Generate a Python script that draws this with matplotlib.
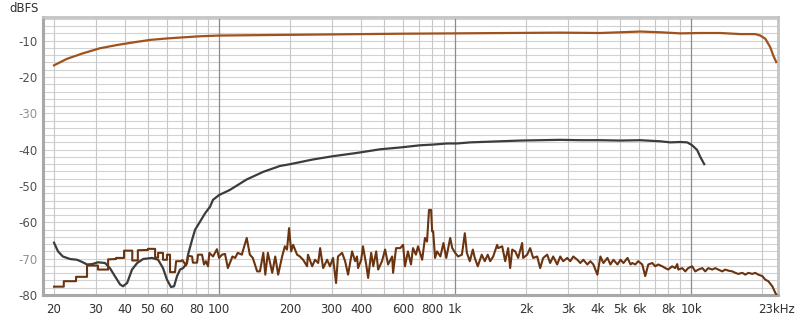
import numpy as np
import matplotlib.pyplot as plt
import matplotlib as mpl

mpl.rcParams['font.family'] = ['DejaVu Sans']
mpl.rcParams['axes.unicode_minus'] = False

# top curve (level, brown-orange)
top_freq = [20, 22.7, 26.5, 31.3, 37, 43.2, 51, 60.2, 70.4, 83.1, 100, 200, 585, 1000,
            2786, 4114, 6083, 7390, 8980, 10920, 13270, 16140, 18660, 19600, 20600,
            21600, 22250, 22900]
top_db = [-16.8, -15.0, -13.5, -12.1, -11.2, -10.5, -9.8, -9.4, -9.1, -8.8, -8.6, -8.4, -8.1, -8.0,
          -7.8, -7.9, -7.5, -7.7, -8.0, -7.9, -7.9, -8.2, -8.2, -8.6, -9.5,
          -11.8, -14.1, -15.9]

# dark grey curve
grey_freq = [20, 20.8, 21.8, 23.4, 25.0, 26.3, 27.6, 29.0, 30.7, 32.9, 34.5, 36.2, 38.1, 39.2,
             40.8, 42.8, 45.0, 47.7, 52.0, 55.2, 57.9, 60.2, 62.6, 64.5, 66.4, 68.4, 70.4,
             73.2, 73.9, 76.9, 79.1, 87.3, 91.6, 94.3, 100, 111, 131, 154, 181, 200, 250,
             304, 384, 481, 585, 711, 807, 925, 1019, 1158, 1276, 1885, 2786, 3386, 4114,
             5003, 6083, 7390, 8150, 8980, 9620, 10090, 10590, 10920, 11350]
grey_db = [-65.6, -68.0, -69.4, -70.1, -70.3, -70.9, -71.6, -71.5, -71.0, -71.2, -72.6, -74.8, -77.1, -77.6,
           -76.7, -73.0, -71.2, -70.1, -69.8, -70.3, -72.6, -75.8, -77.8, -77.6, -74.8, -73.0, -72.6,
           -71.2, -68.9, -64.8, -62.1, -57.5, -55.7, -53.8, -52.5, -51.1, -48.2, -46.1, -44.5, -44.0, -42.7,
           -41.8, -40.9, -39.9, -39.4, -38.8, -38.6, -38.3, -38.3, -38.0, -37.9, -37.5, -37.3, -37.4, -37.4,
           -37.5, -37.4, -37.7, -38.0, -37.9, -38.0, -38.8, -40.1, -42.0, -44.0]

# noise spectrum (dark brown)
noise_freq = [20, 22, 22, 24.8, 24.8, 27.6, 27.6, 30.7, 30.7, 33.9, 33.9, 36.6, 36.6, 39.6, 39.6,
              42.9, 42.9, 45.3, 45.3, 50, 50, 53.6, 53.6, 55.2, 55.2, 57.9, 57.9, 60.2, 60.2,
              62, 62, 65.1, 65.8, 69, 70, 72.5, 73.9, 76.9, 77.5, 80.7, 81.5, 84.7, 86.4, 88,
              89.8, 91, 94.3, 98, 100, 103, 106, 109, 114, 117, 120, 125, 126, 131, 135, 139,
              145, 149, 154, 157, 161, 168, 173, 178, 185, 190, 194, 198, 202, 206, 214, 220,
              227, 236, 238, 248, 255, 263, 268, 276, 287, 295, 304, 313, 319, 332, 342, 352,
              366, 377, 384, 388, 400, 407, 420, 428, 441, 450, 463, 472, 490, 505, 520, 541,
              546, 562, 585, 602, 613, 631, 650, 663, 682, 696, 725, 745, 760, 775, 791, 799,
              807, 822, 838, 866, 892, 917, 953, 972, 1000, 1029, 1068, 1099, 1121, 1154,
              1188, 1211, 1247, 1296, 1335, 1374, 1407, 1449, 1506, 1521, 1582, 1629, 1677,
              1710, 1745, 1796, 1849, 1922, 1941, 2018, 2078, 2140, 2226, 2291, 2360, 2454,
              2526, 2601, 2705, 2786, 2869, 2984, 3073, 3164, 3291, 3389, 3490, 3630, 3738,
              3849, 4003, 4122, 4245, 4415, 4546, 4681, 4869, 5014, 5163, 5370, 5530, 5623,
              5794, 5962, 6200, 6383, 6577, 6839, 7036, 7244, 7534, 7762, 7990, 8298, 8550,
              8720, 8810, 9162, 9433, 9705, 10090, 10400, 10720, 11140, 11460, 11800, 12270,
              12640, 13010, 13530, 13930, 14350, 14930, 15360, 15820, 16450, 16940, 17460,
              18130, 18660, 19230, 19990, 20600, 21200, 22040, 22700, 23100]
noise_db = [-77.7, -77.7, -76.2, -76.2, -75.0, -75.0, -71.9, -71.9, -73.0, -73.0, -70.2, -70.1, -69.8, -69.8, -67.8,
            -67.8, -70.5, -70.5, -67.7, -67.6, -67.3, -67.3, -69.7, -69.7, -68.4, -68.4, -70.3, -70.3, -68.9,
            -68.9, -73.7, -73.7, -70.7, -70.7, -70.4, -71.9, -69.2, -69.4, -71.1, -71.1, -68.9, -68.9, -71.6, -70.7,
            -72.1, -68.4, -69.4, -67.4, -69.8, -68.9, -68.7, -72.6, -69.4, -69.8, -68.4, -68.9, -68.0, -64.3, -68.9, -69.8,
            -73.5, -73.5, -68.4, -74.4, -68.4, -73.9, -69.4, -74.4, -69.4, -66.6, -67.5, -61.6, -68.0, -66.2, -68.9, -69.4,
            -70.3, -72.1, -68.9, -72.1, -70.3, -71.2, -67.1, -72.6, -70.3, -72.1, -69.8, -76.7, -69.4, -68.4, -70.7, -74.4,
            -68.0, -70.7, -69.4, -72.6, -70.3, -66.6, -71.6, -75.3, -68.4, -72.1, -68.0, -73.0, -70.7, -67.5, -71.6, -69.4,
            -73.9, -67.1, -67.1, -66.2, -72.1, -68.0, -71.6, -67.1, -68.9, -66.6, -70.3, -64.3, -65.3, -56.6, -56.6, -62.5,
            -62.5, -69.8, -68.0, -69.4, -65.7, -69.8, -64.3, -67.1, -68.4, -69.4, -68.9, -63.0, -68.4, -70.7,
            -67.5, -69.8, -72.1, -68.9, -70.7, -68.9, -70.7, -69.4, -66.2, -67.1, -66.6, -70.7, -67.1,
            -72.6, -67.5, -68.0, -69.8, -65.7, -69.8, -68.9, -67.1, -69.8, -69.4, -72.6, -69.8, -68.9,
            -71.2, -69.4, -71.6, -69.4, -70.7, -69.8, -70.7, -69.4, -70.3, -71.2, -70.3, -71.6, -70.7,
            -71.6, -74.4, -69.4, -71.2, -69.8, -71.6, -70.3, -71.6, -70.3, -71.2, -69.8, -71.6, -71.2,
            -71.6, -70.7, -71.6, -74.8, -71.6, -71.2, -72.1, -71.6, -72.1, -72.6, -73.0, -72.1, -72.6,
            -71.5, -73.0, -72.6, -73.5, -72.6, -72.1, -73.5, -73.0, -72.6, -73.5, -72.6, -73.0,
            -72.6, -73.0, -73.5, -73.0, -73.3, -73.5, -73.9, -74.2, -73.9, -74.4, -73.9,
            -74.2, -73.9, -74.4, -74.8, -75.8, -76.2, -77.6, -79.4, -80.3]

tick_freq = [20, 30, 40, 50, 60, 80, 100, 200, 300, 400, 600, 800, 1000,
             2000, 3000, 4000, 5000, 6000, 8000, 10000, 23000]
tick_labels = ['20', '30', '40', '50', '60', '80', '100', '200', '300', '400', '600', '800', '1k',
               '2k', '3k', '4k', '5k', '6k', '8k', '10k', '23kHz']
y_ticks = [-10, -20, -30, -40, -50, -60, -70, -80]

fig = plt.figure(figsize=(8, 3.21), dpi=100)
ax = fig.add_axes([0.054, 0.081, 0.9185, 0.866])
ax.set_xscale('log')
ax.set_xlim(18, 23300)
ax.set_ylim(-80, -3.5)

# grid
for d in range(-80, -3, 2):
    ax.axhline(d, color='#d2d2d2', lw=0.8, zorder=0)
for dec in [10, 100, 1000, 10000]:
    for m in range(2, 10):
        f = dec * m
        if 18 < f < 23300:
            ax.axvline(f, color='#c8c8c8', lw=0.8, zorder=0)
for f in [100, 1000, 10000]:
    ax.axvline(f, color='#8c8c8c', lw=0.9, zorder=0)

ax.plot(grey_freq, grey_db, color='#3c3c3c', lw=1.6, zorder=3)
ax.plot(noise_freq, noise_db, color='#6b3411', lw=1.5, zorder=4)
ax.plot(top_freq, top_db, color='#a0521d', lw=1.6, zorder=5)

ax.set_xticks(tick_freq, labels=tick_labels)
ax.xaxis.set_minor_locator(mpl.ticker.NullLocator())
ax.set_yticks(y_ticks, labels=[str(v) for v in y_ticks])
ax.tick_params(axis='both', length=0, labelsize=8.5)
ax.tick_params(axis='x', pad=6, labelcolor='#303030')
ax.tick_params(axis='y', pad=4, labelcolor='#505050')
for lab in ax.get_yticklabels():
    if lab.get_text() in ('-30', '-70'):
        lab.set_color('#909090')

for s in ['left', 'bottom']:
    ax.spines[s].set_color('#a8a8a8')
    ax.spines[s].set_linewidth(2.2)
for s in ['top', 'right']:
    ax.spines[s].set_color('#c4c4c4')
    ax.spines[s].set_linewidth(2.0)

fig.text(0.012, 0.972, 'dBFS', fontsize=8.5, color='#303030', va='center')

plt.savefig('out.png', dpi=100)
